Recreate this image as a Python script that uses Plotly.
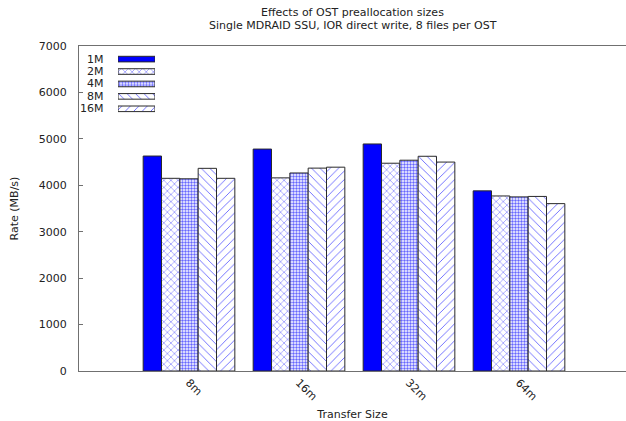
import plotly.graph_objects as go

categories = ["8m", "16m", "32m", "64m"]
series_names = ["1M", "2M", "4M", "8M", "16M"]
values = {
    "1M": [4630, 4780, 4890, 3880],
    "2M": [4150, 4160, 4475, 3770],
    "4M": [4140, 4265, 4540, 3750],
    "8M": [4365, 4370, 4625, 3760],
    "16M": [4150, 4390, 4500, 3605],
}
patterns = {"1M": "", "2M": "x", "4M": ".", "8M": "\\", "16M": "/"}
title_lines = ["Effects of OST preallocation sizes",
               "Single MDRAID SSU, IOR direct write, 8 files per OST"]

W, H = 626, 421
L, T, B = 79, 46, 50
plot_w = W - L
plot_h = H - T - B

FONT = "DejaVu Sans, Verdana, sans-serif"
TXT = "#222222"
BLUE = "#0000ff"
OUTLINE = "#2a2a2a"

def pat(shape):
    if shape == "":
        return dict(shape="")
    if shape == ".":
        return dict(shape=".", fgcolor=BLUE, bgcolor="white", fgopacity=0.6,
                    size=3, solidity=0.5)
    if shape == "x":
        return dict(shape="x", fgcolor=BLUE, bgcolor="white", fgopacity=0.6,
                    size=5, solidity=0.2)
    return dict(shape=shape, fgcolor=BLUE, bgcolor="white", fgopacity=0.6,
                size=6, solidity=0.15)

fig = go.Figure()
for s in series_names:
    fig.add_trace(go.Bar(
        x=categories, y=values[s], name=s, showlegend=False,
        marker=dict(color=BLUE if s == "1M" else "white",
                    pattern=pat(patterns[s]),
                    line=dict(color=OUTLINE, width=1)),
        xaxis="x", yaxis="y",
    ))

def px_x(p):
    return (p - L) / plot_w

def px_y(p):
    return (H - B - p) / plot_h

# key samples drawn on a small auxiliary axis pair
for s in series_names:
    fig.add_trace(go.Bar(
        y=[s], x=[1], orientation="h", showlegend=False, width=0.45,
        marker=dict(color=BLUE if s == "1M" else "white",
                    pattern=pat(patterns[s]),
                    line=dict(color=OUTLINE, width=1)),
        xaxis="x2", yaxis="y2", hoverinfo="skip",
    ))
    fig.add_annotation(text=s, x=px_x(106), xref="paper", xanchor="right",
                       y=s, yref="y2", showarrow=False,
                       font=dict(family=FONT, size=11, color=TXT))

for i, line in enumerate(title_lines):
    fig.add_annotation(text=line, x=0.5, xref="paper", xanchor="center",
                       y=px_y(12 + 13 * i), yref="paper", yanchor="middle",
                       showarrow=False, font=dict(family=FONT, size=11, color=TXT))

fig.update_layout(
    width=W, height=H,
    margin=dict(l=L, r=0, t=T, b=B),
    paper_bgcolor="white", plot_bgcolor="white",
    barmode="group", bargap=1/6, bargroupgap=0,
    font=dict(family=FONT, size=11, color=TXT),
    xaxis=dict(range=[-1, 4 - 3 / 110], showgrid=False, zeroline=False,
               showline=True, linecolor="#707070", linewidth=1, mirror=True,
               ticks="", tickangle=45, tickfont=dict(size=11, color=TXT),
               title=dict(text="Transfer Size", standoff=8, font=dict(size=11, color=TXT))),
    yaxis=dict(range=[0, 7000], dtick=1000, showgrid=False, zeroline=False,
               showline=True, linecolor="#707070", linewidth=1,
               ticks="inside", ticklen=4, tickcolor="#707070",
               tickfont=dict(size=11, color=TXT), ticklabelstandoff=9,
               title=dict(text="Rate (MB/s)", standoff=17, font=dict(size=11, color=TXT))),
    xaxis2=dict(domain=[px_x(118), px_x(155)], range=[0, 1], anchor="y2",
                visible=False, fixedrange=True),
    yaxis2=dict(domain=[px_y(117.3), px_y(50.6)], anchor="x2", visible=False,
                autorange="reversed", categoryorder="array",
                categoryarray=series_names, fixedrange=True),
)

fig.write_html("out.html")
